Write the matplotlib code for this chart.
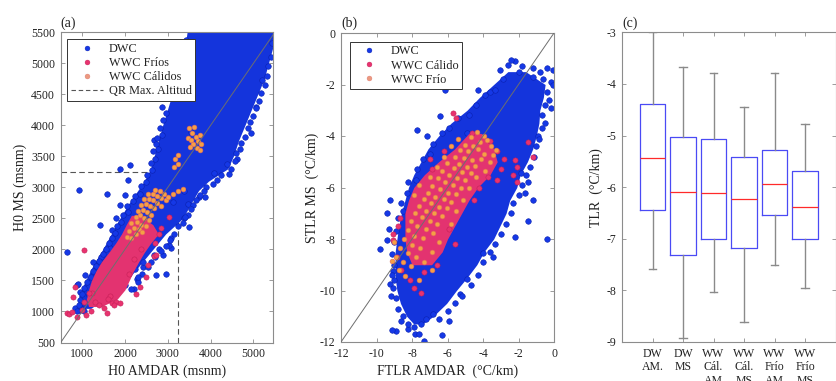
import matplotlib
matplotlib.use('Agg')
import matplotlib.pyplot as plt
from matplotlib.lines import Line2D

plt.rcParams['font.family'] = ['Liberation Serif', 'DejaVu Serif']
plt.rcParams['axes.unicode_minus'] = False

# ---------------- Panel (a): H0 (msnm) ----------------
# dense DWC cloud envelope (row y, left x, right x)
a_core_y  = [5500, 5250, 5000, 4750, 4500, 4250, 4000, 3750, 3500, 3300, 3100, 2950, 2750, 2500, 2250, 2000, 1750, 1500, 1250, 1050]
a_core_xl = [3450, 3400, 3350, 3250, 3100, 2990, 2880, 2780, 2680, 2600, 2450, 2300, 2100, 1880, 1680, 1480, 1260, 1080, 920, 960]
a_core_xr = [5450, 5450, 5350, 5250, 5100, 4950, 4800, 4650, 4530, 4400, 3950, 3720, 3550, 3350, 2950, 2650, 2350, 2050, 1650, 1200]
# dense WWC Frios cloud envelope
a_frio_core_y  = [2550, 2400, 2250, 2100, 1950, 1800, 1650, 1500, 1350, 1200, 1080]
a_frio_core_xl = [2150, 2030, 1920, 1780, 1620, 1450, 1320, 1220, 1150, 1100, 1150]
a_frio_core_xr = [2350, 2650, 2780, 2600, 2450, 2320, 2200, 2100, 2000, 1820, 1450]
# scattered DWC points (x, y)
a_dwc_pts = [
    (650, 1960), (930, 2960), (1410, 2390), (1570, 2890), (1880, 3300), (2110, 3360), (2060, 3120),
    (2690, 3760), (2870, 4290), (2670, 1910), (2800, 2000), (2960, 1600), (3080, 2020), (3120, 2770),
    (2230, 1680), (2430, 1720), (2280, 1520), (1920, 1520), (2200, 1360), (1170, 1260), (950, 1320),
    (870, 1430), (830, 1050), (990, 1040), (1590, 1550), (1380, 1760), (1720, 1810), (3390, 2500),
    (3470, 2740), (3390, 2950), (3740, 2840), (3880, 2840), (3505, 2360), (5210, 4730), (5060, 4300),
    (4620, 3450), (4090, 3240), (1065, 1590), (910, 1450), (1260, 1800), (1450, 1880), (1650, 2020),
    (1690, 2310), (1800, 2500), (1880, 2710), (1995, 2875), (950, 1020), (1040, 1010), (880, 1000),
    (2890, 1910), (2730, 1590), (2420, 1800), (2300, 1480), (2150, 1370), (2000, 1430), (3040, 2070),
    (3080, 2180), (2540, 1720), (2340, 1960), (3550, 3900),
    # left edge of the cloud
    (2950, 4200), (2900, 4080), (2830, 3960), (2870, 3850), (2760, 3800), (2720, 3700), (2780, 3620),
    (2650, 3580), (2700, 3450), (2600, 3400), (2630, 3280), (2520, 3200), (2480, 3080), (2380, 3020),
    (2350, 2900), (2230, 2860), (2180, 2780), (2050, 2700), (2080, 2600), (1950, 2560), (1900, 2450),
    (1820, 2380), (1760, 2260), (1700, 2180), (1620, 2100), (1560, 2000), (1480, 1920), (1400, 1820),
    (1330, 1730), (1250, 1650), (1200, 1560), (1120, 1480), (1050, 1380), (1000, 1280), (960, 1180),
    (920, 1100), (3420, 5380), (3380, 5200), (3300, 4900),
    # right edge of the cloud
    (5420, 5100), (5350, 4950), (5320, 4800), (5260, 4650), (5180, 4520), (5120, 4400), (5050, 4280),
    (4980, 4150), (4920, 4050), (4880, 3950), (4800, 3820), (4720, 3720), (4680, 3620), (4600, 3550),
    (4560, 3420), (4480, 3300), (4420, 3220), (4250, 3200), (4150, 3120), (4050, 3050), (3900, 3000),
    (3850, 2950), (3760, 2880), (3650, 2800), (3600, 2720), (3550, 2650), (3480, 2560), (3400, 2520),
    (3350, 2420), (3250, 2380), (3150, 2250), (3050, 2150), (2950, 2050), (2850, 1980), (2700, 1880),
    (2600, 1800), (2400, 1600), (2300, 1560), (5440, 5320), (4950, 3880), (4380, 3380)]
# scattered WWC Frios points (x, y)
a_frio_pts = [
    (1050, 1990), (830, 1400), (790, 1240), (640, 980), (700, 960), (760, 990), (870, 915), (1590, 975),
    (1700, 1130), (1800, 1160), (1750, 1100), (1880, 1130), (2250, 1280), (2350, 1400), (2675, 1895),
    (2730, 1910), (3040, 2530), (1240, 1290), (1300, 1150), (1400, 1100), (1500, 1050), (1200, 1000),
    (1100, 950), (2550, 1750), (2480, 1550), (2700, 2100), (2800, 2250), (2850, 2350), (1000, 1030),
    (1650, 1250), (2100, 1600), (1050, 1150), (1150, 1300), (2200, 1850), (2380, 2000), (1600, 1200)]
# scattered WWC Calidos points (x, y)
a_cal_pts = [
    (2050, 2200), (2150, 2180), (2250, 2250), (2100, 2300), (2200, 2350), (2320, 2330), (2400, 2280),
    (2150, 2420), (2280, 2450), (2380, 2400), (2480, 2380), (2250, 2530), (2350, 2550), (2450, 2500),
    (2560, 2470), (2300, 2620), (2420, 2640), (2520, 2600), (2620, 2560), (2380, 2720), (2480, 2740),
    (2580, 2700), (2680, 2660), (2450, 2810), (2560, 2820), (2660, 2790), (2760, 2750), (2850, 2700),
    (2540, 2900), (2650, 2890), (2750, 2860), (2850, 2830), (2950, 2800), (2700, 2960), (2820, 2950),
    (2920, 2900), (3000, 2850), (3130, 2900), (3250, 2950), (3350, 2980),
    (3500, 3950), (3560, 3880), (3620, 3980), (3480, 3800), (3550, 3760), (3650, 3820), (3700, 3750),
    (3600, 3700), (3750, 3850), (3780, 3700), (3520, 3650), (3680, 3630), (3760, 3600),
    (3180, 3450), (3230, 3380), (3150, 3330), (3250, 3520)]
qr_max_alt = 3250

# ---------------- Panel (b): lapse rates (°C/km) ----------------
b_core_y  = [-1.5, -2.0, -2.5, -3.0, -3.5, -4.0, -4.5, -5.0, -5.5, -6.0, -6.5, -7.0, -7.5, -8.0, -8.5, -9.0, -9.5, -10.0, -10.5, -11.0, -11.3]
b_core_xl = [-2.6, -3.4, -4.2, -4.9, -5.8, -6.5, -7.1, -7.5, -7.9, -8.2, -8.4, -8.6, -8.75, -8.85, -8.95, -8.95, -8.95, -8.85, -8.65, -8.3, -7.9]
b_core_xr = [-1.6, -0.5, -0.6, -0.8, -0.85, -1.0, -1.2, -1.5, -1.9, -2.1, -2.5, -2.7, -3.05, -3.4, -3.95, -4.35, -4.9, -5.5, -6.05, -6.8, -7.4]
b_cal_core_y  = [-3.9, -4.5, -5.0, -5.5, -6.0, -6.5, -7.0, -7.5, -8.0, -8.5, -9.0]
b_cal_core_xl = [-4.8, -5.6, -6.5, -7.3, -7.9, -8.2, -8.4, -8.4, -8.4, -8.3, -8.0]
b_cal_core_xr = [-4.1, -3.4, -3.2, -3.6, -4.3, -4.8, -5.2, -5.6, -6.0, -6.3, -6.9]
b_dwc_pts = [
    (-6.14, -2.23), (-2.2, -1.1), (-2.0, -1.5), (-3.04, -1.43), (-1.16, -1.36), (-0.79, -1.53),
    (-0.41, -1.36), (-0.04, -1.43), (-0.15, -1.9), (-0.08, -2.0), (-0.17, -2.92), (-1.45, -5.77),
    (-1.16, -6.49), (-1.63, -6.23), (-1.88, -5.45), (-0.4, -8.0), (-1.45, -7.29), (-2.2, -7.91),
    (-3.42, -8.69), (-3.98, -8.56), (-4.92, -9.54), (-5.3, -10.12), (-6.3, -11.74), (-7.32, -11.96),
    (-7.83, -11.68), (-8.9, -11.58), (-9.1, -11.55), (-9.8, -8.37), (-9.43, -8.04), (-9.05, -9.24),
    (-9.24, -9.73), (-7.74, -3.76), (-7.17, -4.0), (-6.42, -3.24), (-4.26, -2.2), (-4.92, -3.89),
    (-9.24, -6.49), (-9.4, -7.0), (-9.3, -7.6), (-9.0, -9.6), (-9.2, -10.2), (-2.6, -1.25), (-2.4, -1.05),
    (-0.3, -2.6), (-0.5, -3.5), (-8.6, -11.2), (-8.2, -11.5), (-7.6, -11.7), (-5.9, -11.2), (-6.8, -10.9),
    (-3.6, -2.3), (-0.9, -4.0),
    # left edge
    (-2.9, -1.8), (-3.3, -2.2), (-3.9, -2.4), (-4.4, -2.8), (-4.8, -3.2), (-5.4, -3.3), (-5.9, -3.7),
    (-6.3, -3.9), (-6.8, -4.3), (-7.0, -4.7), (-7.4, -4.9), (-7.7, -5.3), (-7.8, -5.7), (-8.2, -5.8),
    (-8.3, -6.2), (-8.6, -6.6), (-8.5, -6.9), (-8.8, -7.2), (-8.9, -7.7), (-9.0, -8.1), (-9.1, -8.6),
    (-9.0, -9.0), (-9.15, -9.4), (-9.05, -9.9), (-8.9, -10.3), (-8.8, -10.7), (-8.5, -11.0),
    (-8.2, -11.3), (-7.9, -11.4), (-7.5, -11.3), (-7.2, -11.1),
    # right edge
    (-1.8, -1.3), (-1.2, -1.7), (-0.6, -1.8), (-0.4, -2.3), (-0.5, -2.8), (-0.65, -3.2), (-0.7, -3.7),
    (-0.85, -4.1), (-1.0, -4.4), (-1.1, -4.8), (-1.35, -5.2), (-1.6, -5.5), (-1.8, -5.9), (-2.0, -6.3),
    (-2.3, -6.6), (-2.45, -7.0), (-2.7, -7.4), (-3.0, -7.8), (-3.3, -8.2), (-3.6, -8.5), (-4.0, -8.9),
    (-4.3, -9.4), (-4.7, -9.8), (-5.2, -10.2), (-5.6, -10.5), (-6.0, -10.8), (-6.5, -11.1)]
b_cal_pts = [
    (-5.67, -3.11), (-5.5, -3.3), (-2.2, -4.93), (-2.1, -5.2), (-1.45, -4.22), (-1.2, -4.8),
    (-2.07, -5.77), (-2.3, -5.5), (-3.0, -5.3), (-3.2, -5.7), (-9.05, -8.04), (-9.05, -7.8),
    (-8.86, -8.69), (-8.1, -9.6), (-7.5, -10.1), (-8.7, -7.2), (-8.8, -7.5), (-7.3, -9.3), (-6.6, -9.0),
    (-5.6, -8.2), (-4.5, -6.5), (-4.2, -6.0), (-3.6, -4.2), (-4.6, -3.9), (-7.0, -4.9), (-6.9, -5.3),
    (-3.2, -4.6), (-2.8, -4.9), (-8.6, -9.2), (-7.9, -9.9), (-5.9, -7.6), (-3.7, -5.6), (-6.2, -4.6)]
b_frio_pts = [
    (-4.35, -3.85), (-3.95, -4.0), (-4.7, -4.05), (-4.15, -4.25), (-3.75, -4.15), (-5.0, -4.35),
    (-4.55, -4.4), (-3.55, -4.4), (-3.25, -4.55), (-5.3, -4.55), (-4.85, -4.6), (-4.3, -4.5),
    (-3.95, -4.7), (-3.45, -4.75), (-5.6, -4.8), (-5.05, -4.85), (-4.6, -4.95), (-4.1, -4.9),
    (-5.35, -5.1), (-4.9, -5.2), (-4.45, -5.15), (-6.05, -5.05), (-5.65, -5.25), (-5.2, -5.4),
    (-4.7, -5.45), (-6.3, -5.35), (-5.9, -5.5), (-5.45, -5.65), (-5.0, -5.7), (-6.55, -5.65),
    (-6.15, -5.8), (-5.7, -5.9), (-5.25, -6.0), (-6.85, -5.95), (-6.4, -6.05), (-5.95, -6.2),
    (-5.5, -6.25), (-7.1, -6.2), (-6.7, -6.35), (-6.2, -6.45), (-5.8, -6.55), (-7.35, -6.45),
    (-6.95, -6.6), (-6.5, -6.75), (-6.05, -6.8), (-7.6, -6.7), (-7.2, -6.9), (-6.75, -7.0),
    (-6.3, -7.1), (-7.85, -7.0), (-7.45, -7.15), (-7.0, -7.3), (-6.6, -7.4), (-8.05, -7.3),
    (-7.7, -7.5), (-7.2, -7.6), (-6.8, -7.75), (-8.2, -7.65), (-7.9, -7.9), (-7.4, -7.95),
    (-8.45, -8.0), (-8.0, -8.25), (-7.55, -8.35), (-8.7, -8.35), (-8.25, -8.55), (-7.75, -8.7),
    (-8.9, -8.7), (-8.5, -8.9), (-8.05, -9.05), (-8.75, -9.2), (-9.0, -8.1), (-9.1, -8.85),
    (-8.4, -9.45), (-7.3, -8.9), (-6.9, -8.5), (-6.5, -8.1), (-5.8, -7.4), (-5.5, -6.9), (-5.1, -6.5),
    (-4.8, -6.0), (-4.4, -5.6), (-3.9, -5.35), (-3.6, -5.0), (-7.9, -6.3), (-7.6, -5.9), (-7.0, -5.6),
    (-6.6, -5.2), (-6.2, -4.8), (-5.8, -4.4), (-5.4, -4.1), (-6.9, -9.2), (-7.6, -9.6)]

# ---------------- Panel (c): box plots ----------------
c_labels = ['DW\nAM.', 'DW\nMS', 'WW\nCál.\nAM', 'WW\nCál.\nMS', 'WW\nFrío\nAM', 'WW\nFrío\nMS']
c_whislo = [-7.58, -8.92, -8.04, -8.61, -7.51, -7.95]
c_q1     = [-6.45, -7.31, -7.01, -7.17, -6.53, -7.00]
c_med    = [-5.44, -6.10, -6.11, -6.22, -5.94, -6.38]
c_q3     = [-4.39, -5.02, -5.06, -5.42, -5.28, -5.68]
c_whishi = [-3.00, -3.67, -3.78, -4.45, -3.78, -4.78]

# ---------------- styling ----------------
BLUE_F, BLUE_E, BLUE_FILL = '#1538e6', '#0a20b0', '#1434dc'
PINK_F, PINK_E, PINK_FILL = '#e8336f', '#c41f58', '#e33370'
ORNG_F, ORNG_E = '#f5a045', '#e2685a'
SPINE = '#8c8c8c'
TXT = '#222222'
TICK_FS = 8.5
LAB_FS = 10


def xy(pts):
    return [p[0] for p in pts], [p[1] for p in pts]


fig = plt.figure(figsize=(8.36, 3.81), dpi=100)
ax1 = fig.add_axes([60.7/836, 1-342.5/381, 212/836, 310.2/381])
ax2 = fig.add_axes([341/836, 1-342/381, 213/836, 309/381])
ax3 = fig.add_axes([622/836, 1-342/381, 213.5/836, 309.7/381])


def style(ax):
    for s in ax.spines.values():
        s.set_color(SPINE)
        s.set_linewidth(0.8)
    ax.tick_params(direction='in', length=3, width=0.6, color=SPINE, labelcolor=TXT,
                   labelsize=TICK_FS, top=True, right=True, pad=4)


def dot_handle(fc, ec):
    return Line2D([], [], ls='none', marker='o', ms=3.5, mfc=fc, mec=ec, mew=0.3)


def add_legend(ax, handles, labels, anchor):
    leg = ax.legend(handles, labels, loc='upper left', bbox_to_anchor=anchor, fontsize=8.8,
                    frameon=True, fancybox=False, edgecolor='#333333', framealpha=1,
                    borderpad=0.3, labelspacing=0.18, handlelength=2.6, handletextpad=0.5,
                    borderaxespad=0)
    leg.get_frame().set_linewidth(0.7)
    leg.set_zorder(10)
    for t in leg.get_texts():
        t.set_color(TXT)


def scatter_panel(ax, core, core2, dwc, mid, top):
    ax.fill_betweenx(core[0], core[1], core[2], color=BLUE_FILL, lw=0, zorder=2)
    x, y = xy(dwc)
    ax.scatter(x, y, s=16, c=BLUE_F, edgecolors=BLUE_E, linewidths=0.4, zorder=2.1)
    ax.fill_betweenx(core2[0], core2[1], core2[2], color=PINK_FILL, lw=0, zorder=3)
    x, y = xy(mid)
    ax.scatter(x, y, s=14, c=PINK_F, edgecolors=PINK_E, linewidths=0.4, zorder=3.1)
    x, y = xy(top)
    ax.scatter(x, y, s=12, c=ORNG_F, edgecolors=ORNG_E, linewidths=0.4, zorder=4)


# ---- (a)
ax = ax1
ax.plot([500, qr_max_alt], [qr_max_alt, qr_max_alt], ls=(0, (5, 3)), color='#555555', lw=0.8, zorder=1)
ax.plot([qr_max_alt, qr_max_alt], [500, qr_max_alt], ls=(0, (5, 3)), color='#555555', lw=0.8, zorder=1)
scatter_panel(ax, (a_core_y, a_core_xl, a_core_xr),
              (a_frio_core_y, a_frio_core_xl, a_frio_core_xr), a_dwc_pts, a_frio_pts, a_cal_pts)
ax.plot([500, 5500], [500, 5500], color='#6e6e6e', lw=0.7, zorder=5)
ax.set_xlim(500, 5450)
ax.set_ylim(500, 5500)
ax.set_xticks([1000, 2000, 3000, 4000, 5000])
ax.set_yticks(list(range(500, 5501, 500)))
style(ax)
ax.set_xlabel('H0 AMDAR (msnm)', fontsize=LAB_FS, color=TXT)
ax.set_ylabel('H0 MS (msnm)', fontsize=LAB_FS, color=TXT)
ax.xaxis.set_label_coords(0.5, (342.5-371)/310.2)
ax.yaxis.set_label_coords((20-60.7)/212, 0.5)
ax.xaxis.label.set_va('center')
ax.yaxis.label.set_va('center')
ax.text(0.0, (342.5-23)/310.2, '(a)', transform=ax.transAxes, ha='left', va='center', fontsize=10, color=TXT)
add_legend(ax, [dot_handle(BLUE_F, BLUE_E), dot_handle(PINK_F, PINK_E), dot_handle('#eb9a80', '#e07a70'),
                Line2D([], [], ls=(0, (4, 2.5)), color='#555555', lw=0.8)],
           ['DWC', 'WWC Fríos', 'WWC Cálidos', 'QR Max. Altitud'], (0.03, 0.978))

# ---- (b)
ax = ax2
scatter_panel(ax, (b_core_y, b_core_xl, b_core_xr),
              (b_cal_core_y, b_cal_core_xl, b_cal_core_xr), b_dwc_pts, b_cal_pts, b_frio_pts)
ax.plot([-12, 0], [-12, 0], color='#6e6e6e', lw=0.7, zorder=5)
ax.set_xlim(-12, 0)
ax.set_ylim(-12, 0)
ax.set_xticks(range(-12, 1, 2))
ax.set_yticks(range(-12, 1, 2))
style(ax)
ax.set_xlabel('FTLR AMDAR  (°C/km)', fontsize=LAB_FS, color=TXT)
ax.set_ylabel('STLR MS  (°C/km)', fontsize=LAB_FS, color=TXT)
ax.xaxis.set_label_coords(0.5, (342-371)/309)
ax.yaxis.set_label_coords((312-341)/213, 0.5)
ax.xaxis.label.set_va('center')
ax.yaxis.label.set_va('center')
ax.text(0.0, (342-23)/309, '(b)', transform=ax.transAxes, ha='left', va='center', fontsize=10, color=TXT)
add_legend(ax, [dot_handle(BLUE_F, BLUE_E), dot_handle(PINK_F, PINK_E), dot_handle('#eb9a80', '#e07a70')],
           ['DWC', 'WWC Cálido', 'WWC Frío'], (0.04, 0.972))

# ---- (c)
ax = ax3
stats = [dict(whislo=lo, q1=a, med=m, q3=b, whishi=hi, fliers=[])
         for lo, a, m, b, hi in zip(c_whislo, c_q1, c_med, c_q3, c_whishi)]
ax.bxp(stats, positions=range(1, len(stats)+1), widths=0.82, capwidths=0.26, showfliers=False,
       boxprops=dict(color='#4a4af5', lw=0.9),
       whiskerprops=dict(color='#8a8a8a', lw=1.0, ls='-'),
       capprops=dict(color='#8a8a8a', lw=1.0),
       medianprops=dict(color='#ff2a2a', lw=0.9))
ax.set_xlim(0, 7)
ax.set_ylim(-9, -3)
ax.set_yticks(range(-9, -2))
ax.set_xticks(range(1, len(c_labels)+1))
ax.set_xticklabels(c_labels, linespacing=1.2, va='top')
style(ax)
ax.set_ylabel('TLR  (°C/km)', fontsize=LAB_FS, color=TXT)
ax.yaxis.set_label_coords((596-622)/213.5, 0.5)
ax.yaxis.label.set_va('center')
ax.text(0.0, (342-23)/309.7, '(c)', transform=ax.transAxes, ha='left', va='center', fontsize=10, color=TXT)

fig.savefig('out.png', dpi=100)
